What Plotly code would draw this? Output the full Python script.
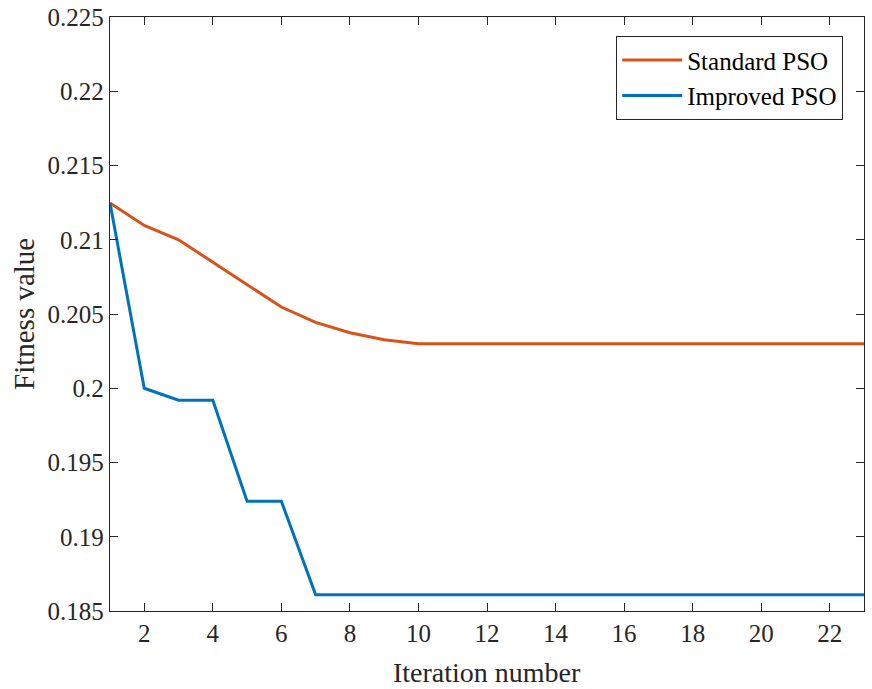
import plotly.graph_objects as go

iterations = list(range(1, 24))
standard_pso = [0.21247, 0.21096, 0.2100, 0.20847, 0.20695, 0.20547, 0.20444, 0.20374,
                0.20327, 0.2030] + [0.2030] * 13
improved_pso = [0.21247, 0.2000, 0.19919, 0.19919, 0.19239, 0.19239, 0.1861] + [0.1861] * 16

x_ticks = list(range(2, 23, 2))
y_tickvals = [0.185, 0.19, 0.195, 0.2, 0.205, 0.21, 0.215, 0.22, 0.225]
y_ticktext = ["0.185", "0.19", "0.195", "0.2", "0.205", "0.21", "0.215", "0.22", "0.225"]

FONT = "Times New Roman, Liberation Serif, serif"
AX = "#262626"

fig = go.Figure()
fig.add_trace(go.Scatter(x=iterations, y=standard_pso, mode="lines", name="Standard PSO",
                         line=dict(color="#D95319", width=3)))
fig.add_trace(go.Scatter(x=iterations, y=improved_pso, mode="lines", name="Improved PSO",
                         line=dict(color="#0072BD", width=3)))

axis_common = dict(showline=True, linecolor=AX, linewidth=1.3, mirror="ticks",
                   ticks="inside", ticklen=8, tickwidth=1.3, tickcolor=AX,
                   showgrid=False, zeroline=False, automargin=False,
                   ticklabeloverflow="allow",
                   tickfont=dict(family=FONT, size=25, color=AX))

fig.update_layout(
    width=872, height=689,
    margin=dict(l=110, r=8, t=17, b=77.5),
    paper_bgcolor="white", plot_bgcolor="white",
    font=dict(family=FONT, size=25, color=AX),
    xaxis=dict(range=[1, 23], tickvals=x_ticks, **axis_common),
    yaxis=dict(range=[0.185, 0.225], tickvals=y_tickvals, ticktext=y_ticktext, **axis_common),
    legend=dict(x=0.972, y=0.968, xanchor="right", yanchor="top",
                bordercolor=AX, borderwidth=1.3, bgcolor="white",
                font=dict(family=FONT, size=25, color="black"),
                tracegroupgap=0, itemwidth=60),
    showlegend=True,
    annotations=[
        dict(text="Iteration number", xref="paper", yref="paper", x=0.5, y=0,
             xanchor="center", yanchor="middle", yshift=-61, showarrow=False,
             font=dict(family=FONT, size=28, color=AX)),
        dict(text="Fitness value", xref="paper", yref="paper", x=0, y=0.5,
             xanchor="center", yanchor="middle", xshift=-86, textangle=-90, showarrow=False,
             font=dict(family=FONT, size=29, color=AX)),
    ],
)

# remove the browser's default 8px body margin so the figure fills the window exactly
fig.write_html("out.html", config={"displayModeBar": False},
               post_script="document.body.style.margin='0';")
